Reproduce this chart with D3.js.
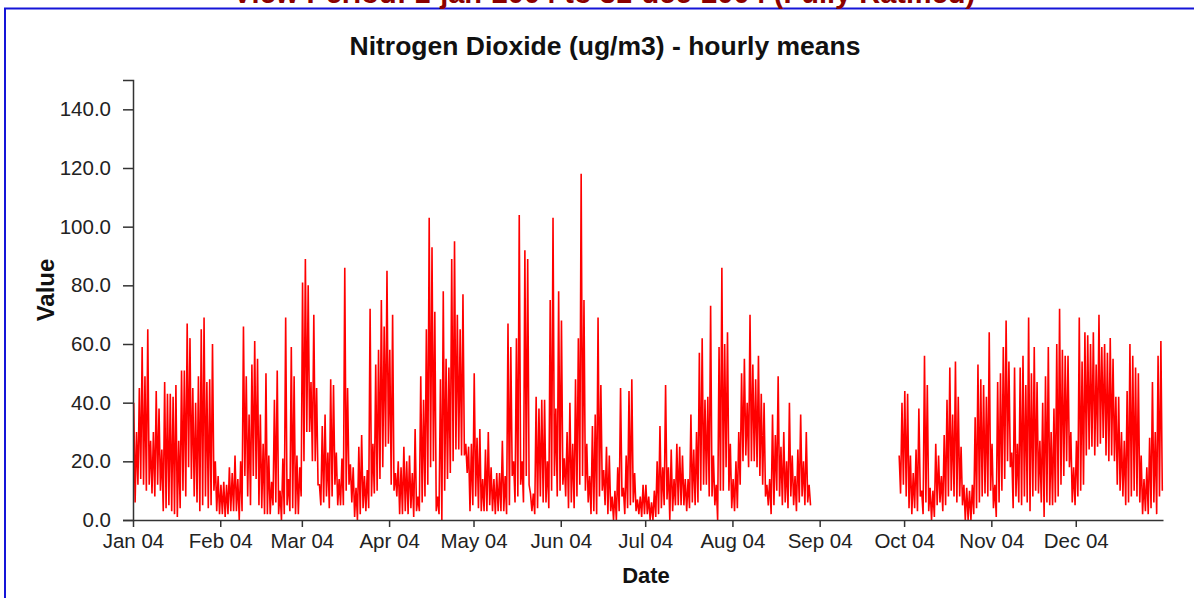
<!DOCTYPE html>
<html>
<head>
<meta charset="utf-8">
<script src="https://cdn.jsdelivr.net/npm/d3@7"></script>
<style>
  body { margin: 0; background: #fff; }
  svg { display: block; font-family: "Liberation Sans", Arial, sans-serif; }
</style>
</head>
<body>
<svg width="1194" height="598"></svg>
<script>
const dailyMax = [
  40, 30, 45, 59, 49, 65, 27, 30, 44, 38,
  24, 47, 43, 43, 42, 46, 27, 51, 51, 67,
  62, 45, 40, 49, 65, 69, 47, 48, 60, 20,
  15, 12, 13, 12, 18, 16, 22, 14, 20, 66,
  49, 36, 53, 61, 55, 36, 26, 50, 22, 13,
  41, 51, 10, 21, 69, 14, 59, 49, 22, 18,
  81, 89, 80, 47, 70, 45, 12, 32, 36, 23,
  48, 46, 23, 14, 21, 86, 45, 19, 18, 11,
  25, 29, 15, 17, 72, 26, 53, 58, 75, 66,
  85, 58, 70, 16, 20, 18, 25, 20, 22, 16,
  31, 8, 49, 41, 65, 103, 93, 71, 8, 48,
  78, 55, 52, 89, 95, 70, 65, 77, 26, 25,
  26, 50, 28, 31, 14, 24, 30, 18, 14, 16,
  16, 27, 15, 67, 59, 20, 62, 104, 20, 92,
  89, 9, 9, 42, 38, 41, 41, 20, 75, 103,
  38, 78, 68, 21, 30, 40, 26, 48, 62, 118,
  75, 26, 15, 32, 36, 69, 46, 17, 25, 22,
  8, 10, 18, 45, 11, 22, 44, 48, 16, 7,
  8, 12, 12, 8, 6, 10, 20, 32, 18, 46,
  18, 24, 14, 26, 25, 22, 14, 14, 36, 24,
  30, 57, 62, 41, 42, 73, 22, 12, 59, 86,
  60, 64, 26, 14, 20, 30, 50, 55, 40, 70,
  53, 48, 56, 43, 40, 12, 14, 36, 29, 49,
  25, 30, 20, 40, 22, 15, 24, 36, 20, 30,
  12, null, null, null, null, null, null, null, null, null,
  null, null, null, null, null, null, null, null, null, null,
  null, null, null, null, null, null, null, null, null, null,
  null, null, 22, 40, 44, 43, 22, 16, 24, 38,
  10, 56, 46, 11, 10, 26, 22, 15, 29, 41,
  52, 36, 54, 42, 25, 12, 11, 10, 12, 35,
  53, 48, 46, 42, 64, 26, 12, 47, 50, 59,
  68, 54, 23, 52, 26, 52, 56, 46, 69, 50,
  59, 47, 27, 40, 49, 59, 30, 38, 60, 72,
  58, 56, 56, 30, 18, 27, 69, 54, 64, 63,
  60, 64, 53, 70, 59, 60, 57, 62, 55, 42,
  42, 30, 27, 44, 60, 56, 52, 50, 22, 14,
  18, 28, 47, 30, 56, 61
];
const dailyMin = [
  6, 12, 14, 12, 10, 12, 9, 8, 12, 10,
  3, 4, 5, 3, 2, 1, 4, 10, 8, 18,
  14, 8, 6, 3, 5, 8, 4, 5, 10, 3,
  2, 2, 1, 2, 3, 3, 3, 0, 3, 15,
  8, 5, 15, 14, 5, 4, 2, 2, 2, 5,
  6, 2, 0, 2, 5, 3, 4, 2, 2, 8,
  20, 30, 30, 20, 20, 12, 5, 6, 8, 4,
  8, 12, 5, 5, 5, 10, 12, 6, 1, 0,
  2, 4, 3, 4, 8, 9, 10, 14, 18, 25,
  26, 12, 10, 8, 2, 2, 3, 2, 4, 1,
  3, 3, 6, 8, 12, 18, 20, 3, 2, 0,
  10, 14, 16, 20, 24, 24, 22, 22, 16, 3,
  5, 8, 4, 3, 3, 3, 5, 3, 2, 3,
  3, 3, 2, 5, 15, 6, 8, 12, 6, 15,
  12, 3, 2, 4, 8, 6, 6, 4, 10, 15,
  8, 10, 12, 8, 4, 6, 4, 8, 12, 15,
  10, 6, 2, 3, 2, 8, 10, 5, 2, 3,
  0, 0, 3, 8, 2, 4, 5, 6, 3, 2,
  1, 2, 2, 0, 0, 1, 2, 4, 5, 7,
  0, 3, 5, 5, 5, 5, 3, 4, 6, 5,
  6, 10, 12, 12, 8, 8, 5, 0, 10, 10,
  18, 10, 4, 3, 4, 12, 20, 22, 18, 20,
  20, 18, 15, 12, 8, 5, 2, 5, 10, 8,
  5, 6, 4, 8, 5, 3, 6, 8, 5, 6,
  5, null, null, null, null, null, null, null, null, null,
  null, null, null, null, null, null, null, null, null, null,
  null, null, null, null, null, null, null, null, null, null,
  null, null, 9, 12, 8, 4, 2, 4, 3, 8,
  2, 6, 3, 0, 1, 5, 6, 3, 5, 8,
  10, 8, 6, 8, 5, 0, 0, 0, 2, 4,
  6, 8, 9, 8, 10, 4, 1, 6, 10, 14,
  20, 18, 4, 8, 6, 5, 8, 6, 3, 8,
  10, 9, 6, 1, 6, 5, 5, 6, 8, 12,
  15, 20, 18, 6, 5, 8, 10, 12, 22, 24,
  25, 22, 25, 26, 28, 22, 20, 22, 20, 12,
  10, 8, 5, 6, 8, 10, 8, 6, 2, 3,
  2, 4, 6, 2, 8, 10
];
const monthLabels = ["Jan 04", "Feb 04", "Mar 04", "Apr 04", "May 04", "Jun 04",
  "Jul 04", "Aug 04", "Sep 04", "Oct 04", "Nov 04", "Dec 04"];
const yTicks = [0, 20, 40, 60, 80, 100, 120, 140];

const svg = d3.select("svg"),
  width = +svg.attr("width"),
  height = +svg.attr("height");

const start = new Date(2004, 0, 1),
  end = new Date(2005, 0, 1);

const x = d3.scaleTime().domain([start, end]).range([133, 1163]);
const y = d3.scaleLinear().domain([0, 150]).range([520, 80]);

// frame and header
svg.append("path")
  .attr("d", `M5,${height}V8.5H${width}`)
  .attr("fill", "none")
  .attr("stroke", "#1515d8")
  .attr("stroke-width", 2);

svg.append("text")
  .attr("x", 604)
  .attr("y", 3)
  .attr("text-anchor", "middle")
  .attr("font-weight", "bold")
  .attr("font-size", 29)
  .attr("fill", "#8b0000")
  .text("View Period: 1-jan-2004 to 31-dec-2004 (Fully Ratified)");

svg.append("text")
  .attr("x", 605)
  .attr("y", 55)
  .attr("text-anchor", "middle")
  .attr("font-weight", "bold")
  .attr("font-size", 26.5)
  .attr("fill", "#111")
  .text("Nitrogen Dioxide (ug/m3) - hourly means");

// series: each day goes high -> low
const days = d3.timeDay.range(start, end);
const points = [];
days.forEach((d, i) => {
  if (dailyMax[i] == null) {
    points.push({ t: d, v: null });
    return;
  }
  points.push({ t: d3.timeHour.offset(d, 6), v: dailyMax[i] });
  points.push({ t: d3.timeHour.offset(d, 18), v: dailyMin[i] });
});

const line = d3.line()
  .defined((p) => p.v != null)
  .x((p) => x(p.t))
  .y((p) => y(p.v));

svg.append("path")
  .datum(points)
  .attr("fill", "none")
  .attr("stroke", "#ff0000")
  .attr("stroke-width", 1.6)
  .attr("stroke-linejoin", "miter")
  .attr("d", line);

// axes
const gx = svg.append("g")
  .attr("transform", "translate(0,520)")
  .call(d3.axisBottom(x)
    .tickValues(d3.timeMonth.range(start, end))
    .tickFormat((d, i) => monthLabels[i])
    .tickSize(7)
    .tickSizeOuter(0)
    .tickPadding(6));

const gy = svg.append("g")
  .attr("transform", "translate(133,0)")
  .call(d3.axisLeft(y)
    .tickValues(yTicks)
    .tickFormat(d3.format(".1f"))
    .tickSize(10)
    .tickSizeOuter(10)
    .tickPadding(12));

[gx, gy].forEach((g) => {
  g.attr("font-family", null).attr("font-size", 20.5);
  g.selectAll("path, line").attr("stroke", "#333").attr("stroke-width", 1.5);
  g.selectAll("text").attr("fill", "#222");
});

svg.append("text")
  .attr("transform", "translate(54,290) rotate(-90)")
  .attr("text-anchor", "middle")
  .attr("font-weight", "bold")
  .attr("font-size", 24)
  .attr("fill", "#111")
  .text("Value");

svg.append("text")
  .attr("x", 646)
  .attr("y", 583)
  .attr("text-anchor", "middle")
  .attr("font-weight", "bold")
  .attr("font-size", 22)
  .attr("fill", "#111")
  .text("Date");
</script>
</body>
</html>
